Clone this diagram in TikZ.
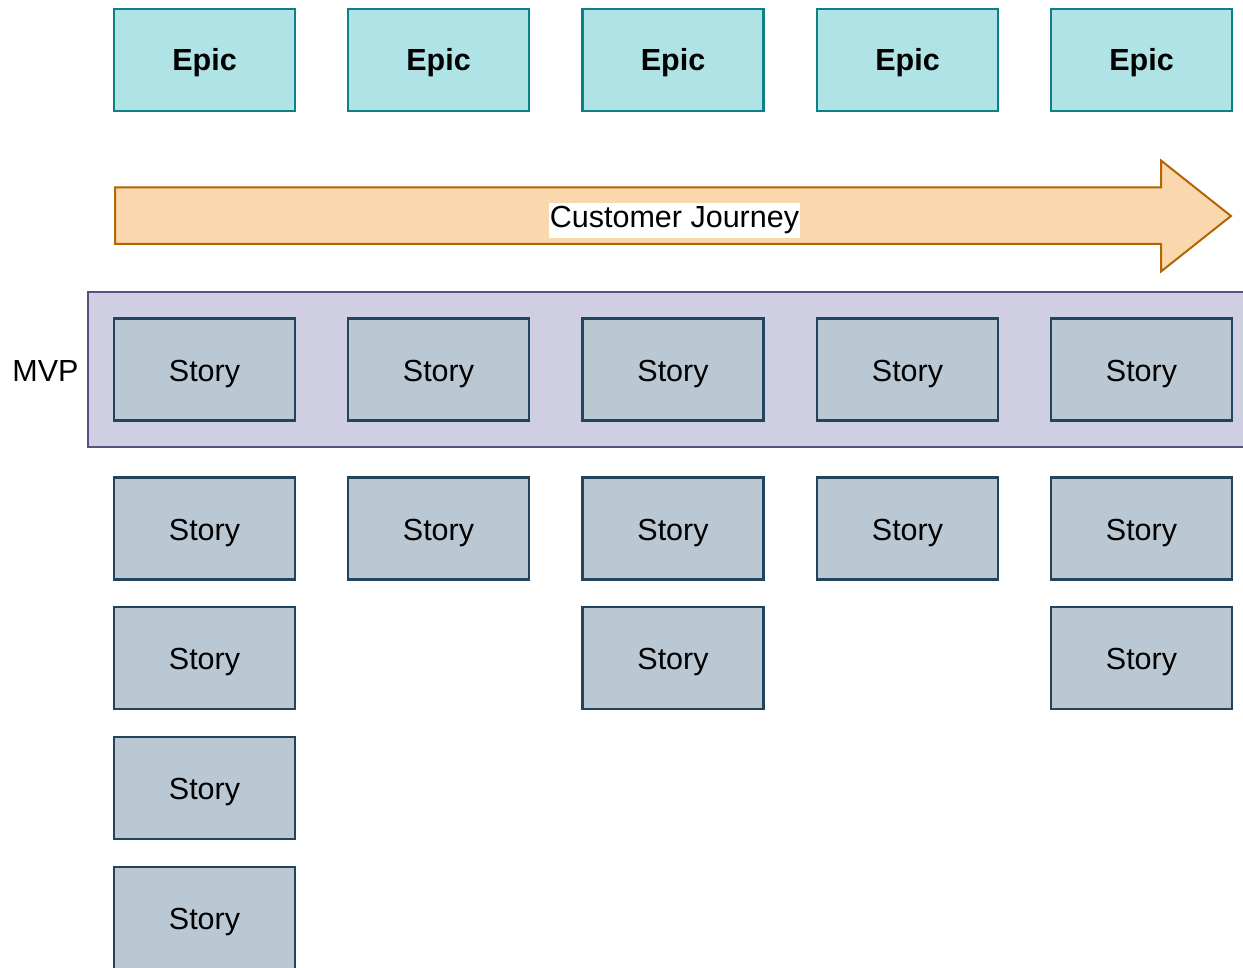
\documentclass[tikz,border=0pt]{standalone}
\usepackage{fontspec}
\setmainfont{Liberation Sans}
\definecolor{epicfill}{HTML}{B0E3E6}
\definecolor{epicline}{HTML}{0E8088}
\definecolor{storyfill}{HTML}{BAC8D3}
\definecolor{storyline}{HTML}{23445D}
\definecolor{mvpfill}{HTML}{D0CEE2}
\definecolor{mvpline}{HTML}{56517E}
\definecolor{arrfill}{HTML}{FAD7AC}
\definecolor{arrline}{HTML}{B46504}
\begin{document}
\begin{tikzpicture}[x=1pt,y=-1pt,
  bigtext/.style={font=\fontsize{30.5}{36}\selectfont},
  epicbox/.style={draw=epicline, fill=epicfill, line width=2.5pt, minimum width=181pt, minimum height=102pt, inner sep=0pt, font=\fontsize{30.5}{36}\selectfont\bfseries, text height=28pt, text depth=6.4pt},
  storybox/.style={draw=storyline, fill=storyfill, line width=2.5pt, minimum width=181pt, minimum height=102pt, inner sep=0pt, bigtext, text height=30pt, text depth=6.4pt}]
\useasboundingbox (0,0) rectangle (1243,968);
\begin{scope}
\clip (0,0) rectangle (1243,968);
% MVP band
\draw[draw=mvpline, fill=mvpfill, line width=2pt] (88,292.5) rectangle (1260,447);
\node[bigtext, anchor=east] (mvp) at (82,371) {MVP};
% Epics
\foreach \i/\x in {1/204.5,2/438.5,3/673,4/907.5,5/1141.5}
  \node[epicbox] (e\i) at (\x,60) {Epic};
% Customer journey arrow
\draw[draw=arrline, fill=arrfill, line width=2pt, line join=miter]
  (115,187.5) -- (1161,187.5) -- (1161,160.5) -- (1231,216) -- (1161,271.5) -- (1161,244) -- (115,244) -- cycle;
\node[bigtext, fill=white, inner xsep=1pt, inner ysep=0.5pt, text height=24pt, text depth=10pt] (cj) at (674.5,221) {Customer Journey};
% Stories
\foreach \i/\x in {1/204.5,2/438.5,3/673,4/907.5,5/1141.5}{
  \node[storybox] (s1\i) at (\x,369.5) {Story};
  \node[storybox] (s2\i) at (\x,528.5) {Story};
}
\foreach \i/\x in {1/204.5,3/673,5/1141.5}
  \node[storybox] (s3\i) at (\x,658) {Story};
\node[storybox] (s41) at (204.5,788) {Story};
\node[storybox] (s51) at (204.5,918) {Story};
\end{scope}
\end{tikzpicture}
\end{document}
